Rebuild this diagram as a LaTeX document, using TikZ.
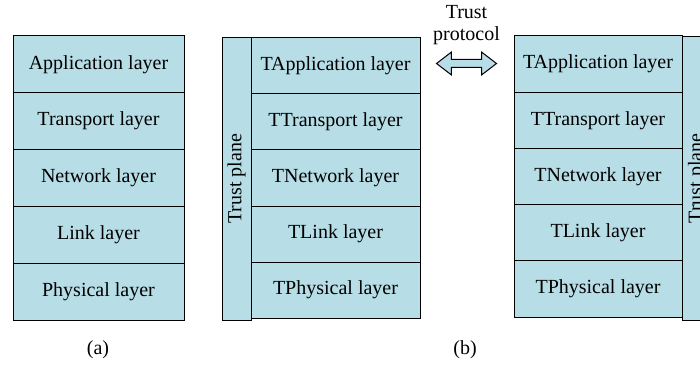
\documentclass[tikz,border=0pt]{standalone}
\usepackage{fontspec}
\setmainfont{Liberation Serif}
\usetikzlibrary{positioning,shapes.arrows}
\definecolor{layerblue}{RGB}{183,221,230}

\begin{document}
\begin{tikzpicture}[x=1pt, y=-1pt, node distance=0pt,
  txt/.style = {font=\fontsize{20}{22}\selectfont},
  layer/.style = {draw, fill=layerblue, line width=1pt, txt,
    minimum width=169pt, minimum height=56pt,
    inner sep=0pt, outer sep=0pt},
  plane/.style = {draw, fill=layerblue, line width=1pt, txt,
    rotate=90, minimum width=282pt, minimum height=29pt,
    inner sep=0pt, outer sep=0pt},
  arr/.style = {draw, fill=layerblue, line width=1pt,
    double arrow, double arrow head extend=7.5pt,
    double arrow tip angle=75, text height=3.5pt, text depth=3.5pt,
    minimum width=22pt, minimum height=60pt, inner sep=0pt}
  ]
  \clip (0,0) rectangle (700,366);

  % (a) plain stack
  \node (app) [layer, minimum width=171pt, minimum height=56.8pt,
    anchor=north west] at (13,36) {Application layer};
  \node (trans) [layer, minimum width=171pt, minimum height=56.8pt,
    below=of app] {Transport layer};
  \node (net) [layer, minimum width=171pt, minimum height=56.8pt,
    below=of trans] {Network layer};
  \node (link) [layer, minimum width=171pt, minimum height=56.8pt,
    below=of net] {Link layer};
  \node (phys) [layer, minimum width=171pt, minimum height=56.8pt,
    below=of link] {Physical layer};
  \node (lbl-a) [txt] at (98,350) {(a)};

  % (b) left trusted stack
  \node (plane-l) [plane] at (236.5,179) {Trust plane};
  \node (tapp-l) [layer, anchor=north west] at (251,38) {TApplication layer};
  \node (ttrans-l) [layer, below=of tapp-l] {TTransport layer};
  \node (tnet-l) [layer, below=of ttrans-l] {TNetwork layer};
  \node (tlink-l) [layer, below=of tnet-l] {TLink layer};
  \node (tphys-l) [layer, below=of tlink-l] {TPhysical layer};

  % (b) right trusted stack
  \node (tapp-r) [layer, minimum width=168pt, minimum height=56.2pt,
    anchor=north west] at (514,36) {TApplication layer};
  \node (ttrans-r) [layer, minimum width=168pt, minimum height=56.2pt,
    below=of tapp-r] {TTransport layer};
  \node (tnet-r) [layer, minimum width=168pt, minimum height=56.2pt,
    below=of ttrans-r] {TNetwork layer};
  \node (tlink-r) [layer, minimum width=168pt, minimum height=56.2pt,
    below=of tnet-r] {TLink layer};
  \node (tphys-r) [layer, minimum width=168pt, minimum height=56.2pt,
    below=of tlink-r] {TPhysical layer};
  \node (plane-r) [plane, minimum width=283pt, minimum height=30pt]
    at (697,178.5) {Trust plane};

  % trust protocol between the stacks
  \node (proto) [arr] at (466.5,63.5) {};
  \node (proto-lbl) [txt, align=center] at (466.5,25) {Trust\\protocol};
  \node (lbl-b) [txt] at (465,350) {(b)};
\end{tikzpicture}
\end{document}
